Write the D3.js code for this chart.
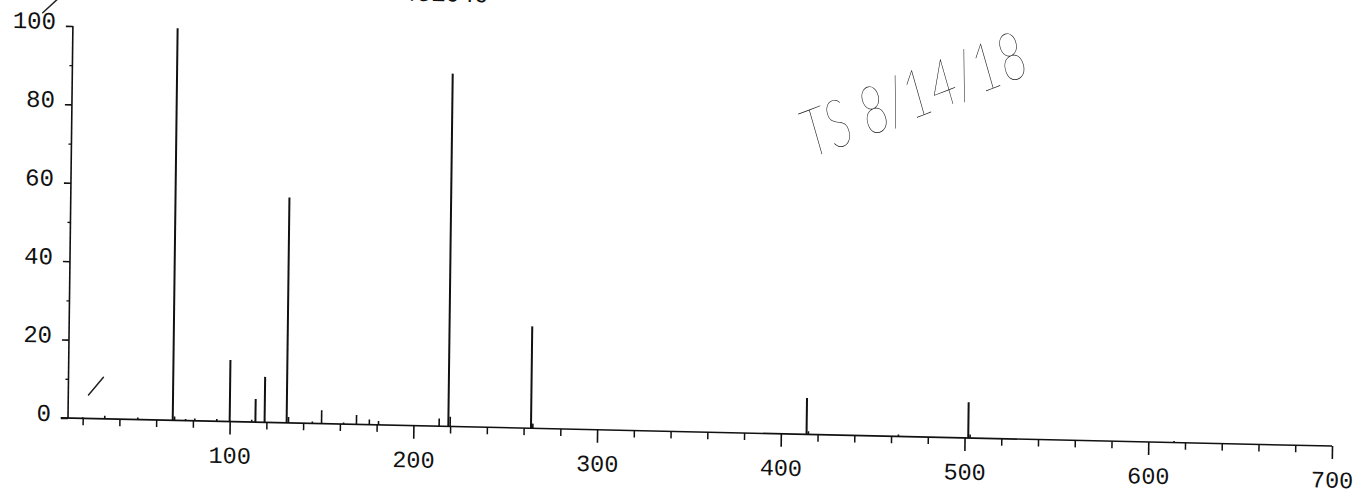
<!DOCTYPE html>
<html>
<head>
<meta charset="utf-8">
<script src="https://cdn.jsdelivr.net/npm/d3@7"></script>
<style>
  html, body { margin: 0; padding: 0; background: #fff; overflow: hidden; }
  svg { display: block; }
  .tick text { font-family: "Liberation Mono", "DejaVu Sans Mono", monospace; fill: #111; }
</style>
</head>
<body>
<svg id="chart" width="1359" height="494"></svg>
<script>
// Mass spectrum (m/z vs relative abundance, %)
const mzValues = [20, 32, 50, 69, 70, 76, 81, 93, 100, 112, 114, 119, 131, 132, 145, 150, 162, 169, 176, 181, 214, 219, 220, 264, 265, 414, 415, 464, 502, 503, 614];
const relAbundance = [0.3, 0.8, 0.5, 100, 1.0, 0.4, 0.6, 0.6, 15.7, 0.6, 5.9, 11.6, 57.5, 1.5, 0.5, 3.4, 0.4, 2.4, 1.3, 1.0, 2.0, 90, 2.5, 26, 1.2, 9.3, 0.8, 0.5, 9.1, 0.9, 0.4];

const xMajorTicks = [100, 200, 300, 400, 500, 600, 700];
const xMinorTicks = [20, 40, 60, 80, 120, 140, 160, 180, 220, 240, 260, 280, 320, 340, 360, 380,
                     420, 440, 460, 480, 520, 540, 560, 580, 620, 640, 660, 680];
const yMajorTicks = [0, 20, 40, 60, 80, 100];
const yMinorTicks = [10, 30, 50, 70, 90];

const headerText = "Abundance: 431040";
const signatureText = "TS 8/14/18";

// pen strokes in data units: [m/z, %] pairs
const penStrokes = [
  [[23, 6], [31, 10.6]],
  [[-4.5, 103.2], [4, 107]]
];

const svg = d3.select("#chart");
const FONT = '"Liberation Mono", "DejaVu Sans Mono", monospace';

const x = d3.scaleLinear().domain([12, 700]).range([0, 1264]);
const y = d3.scaleLinear().domain([0, 100]).range([0, -392]);

// the printed page sits slightly skewed
const plot = svg.append("g")
  .attr("transform", "translate(68,418) matrix(1,0.0222,-0.0125,1,0,0)");

// header line at the top of the page (mostly above the visible area)
plot.append("text")
  .attr("x", x(238)).attr("y", y(108.4))
  .attr("text-anchor", "end")
  .attr("font-family", FONT).attr("font-size", 24).attr("fill", "#111")
  .text(headerText);

// x axis baseline
plot.append("line")
  .attr("x1", x(8)).attr("x2", x(700)).attr("y1", 0).attr("y2", 0)
  .attr("stroke", "#111").attr("stroke-width", 1.6);

// y axis line
plot.append("line")
  .attr("x1", 0).attr("x2", 0).attr("y1", y(0)).attr("y2", y(100))
  .attr("stroke", "#111").attr("stroke-width", 1.6);

// x axis: major ticks with labels
const xAxis = plot.append("g")
  .call(d3.axisBottom(x).tickValues(xMajorTicks).tickSize(13).tickSizeOuter(0)
        .tickPadding(12).tickFormat(d3.format("d")));
xAxis.select(".domain").remove();
xAxis.selectAll(".tick line").attr("stroke", "#111").attr("stroke-width", 1.6);
xAxis.selectAll(".tick text").attr("font-size", 23.5).attr("font-family", FONT);

// x axis minor ticks
plot.append("g")
  .call(d3.axisBottom(x).tickValues(xMinorTicks).tickSize(7).tickSizeOuter(0).tickFormat(""))
  .call(g => g.select(".domain").remove())
  .call(g => g.selectAll(".tick line").attr("stroke", "#111").attr("stroke-width", 1.5));

// y axis: major ticks with labels
const yAxis = plot.append("g")
  .call(d3.axisLeft(y).tickValues(yMajorTicks).tickSize(7).tickSizeOuter(0)
        .tickPadding(10).tickFormat(d3.format("d")));
yAxis.select(".domain").remove();
yAxis.selectAll(".tick line").attr("stroke", "#111").attr("stroke-width", 1.6);
yAxis.selectAll(".tick text").attr("font-size", 24).attr("font-family", FONT).attr("dy", "0.12em");

// y axis minor ticks
plot.append("g")
  .call(d3.axisLeft(y).tickValues(yMinorTicks).tickSize(3).tickSizeOuter(0).tickFormat(""))
  .call(g => g.select(".domain").remove())
  .call(g => g.selectAll(".tick line").attr("stroke", "#111").attr("stroke-width", 1.3));

// spectrum sticks
const peaks = mzValues.map((m, i) => ({ m, v: relAbundance[i] }));
plot.append("g").selectAll("line")
  .data(peaks)
  .join("line")
  .attr("x1", d => x(d.m)).attr("x2", d => x(d.m))
  .attr("y1", y(0)).attr("y2", d => y(d.v))
  .attr("stroke", "#111")
  .attr("stroke-width", d => d.v > 4 ? 2 : 1.6);

// pen marks
plot.append("g").selectAll("line")
  .data(penStrokes)
  .join("line")
  .attr("x1", d => x(d[0][0])).attr("y1", d => y(d[0][1]))
  .attr("x2", d => x(d[1][0])).attr("y2", d => y(d[1][1]))
  .attr("stroke", "#222").attr("stroke-width", 1.5).attr("stroke-linecap", "round");

// handwritten initials and date
svg.append("text")
  .attr("transform", "translate(812,158) rotate(-21) scale(0.72,1)")
  .attr("font-family", "Lato, 'DejaVu Sans', sans-serif")
  .attr("font-weight", 100)
  .attr("font-style", "italic")
  .attr("font-size", 66)
  .attr("fill", "#111")
  .text(signatureText);
</script>
</body>
</html>
